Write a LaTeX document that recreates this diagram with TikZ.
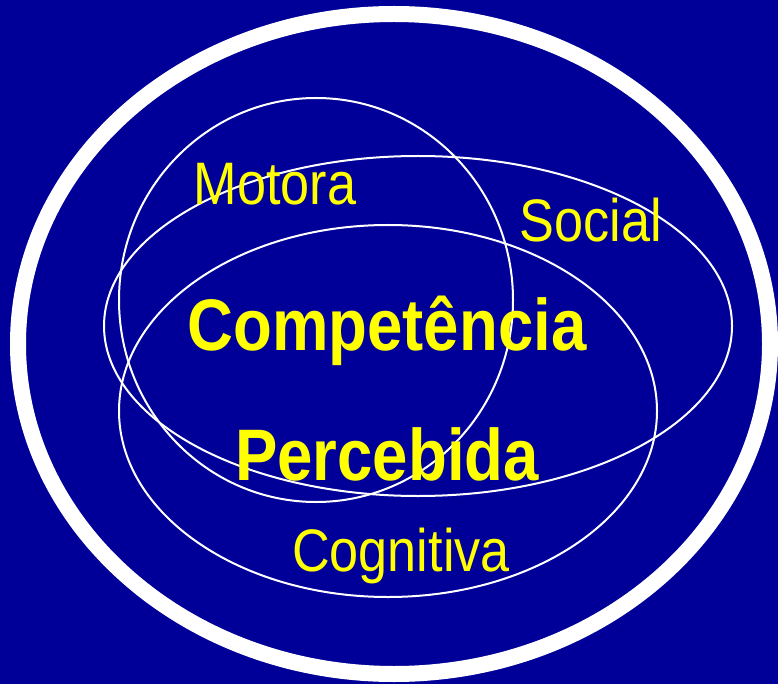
\documentclass[tikz,border=0pt]{standalone}
\usepackage{fontspec}
\setmainfont{Liberation Sans}
\usepackage{tikz}
\usetikzlibrary{shapes.geometric}
\definecolor{bgblue}{RGB}{0,0,153}
\definecolor{lblyellow}{RGB}{255,255,0}

\begin{document}
\begin{tikzpicture}
  [x=1pt,y=-1pt,
   ring/.style={draw=white,ellipse,inner sep=0pt,outer sep=0pt,line width=2pt},
   area/.style={text=lblyellow,anchor=base,inner sep=0pt,xscale=.87,font=\fontsize{60}{72}\selectfont},
   title/.style={area,font=\fontsize{73}{86}\selectfont\bfseries}]
  \fill[bgblue] (0,0) rectangle (778,684);
  \useasboundingbox (0,0) rectangle (778,684);
  \node[ring,line width=16pt,minimum width=752pt,minimum height=660pt] (outer) at (394,344) {};
  \foreach \name/\cx/\cy/\w/\h in {motora/316/300/394/404,social/418/326/628/340,cognitiva/388/411/538/372}
    \node[ring,minimum width=\w pt,minimum height=\h pt] (\name) at (\cx,\cy) {};
  \node[area] (lmotora) at (275,205) {Motora};
  \node[area] (lsocial) at (591,242) {Social};
  \node[area] (lcognitiva) at (401,571) {Cognitiva};
  \node[title] (lcomp) at (387,350) {Competência};
  \node[title] (lperc) at (387,480) {Percebida};
\end{tikzpicture}
\end{document}
